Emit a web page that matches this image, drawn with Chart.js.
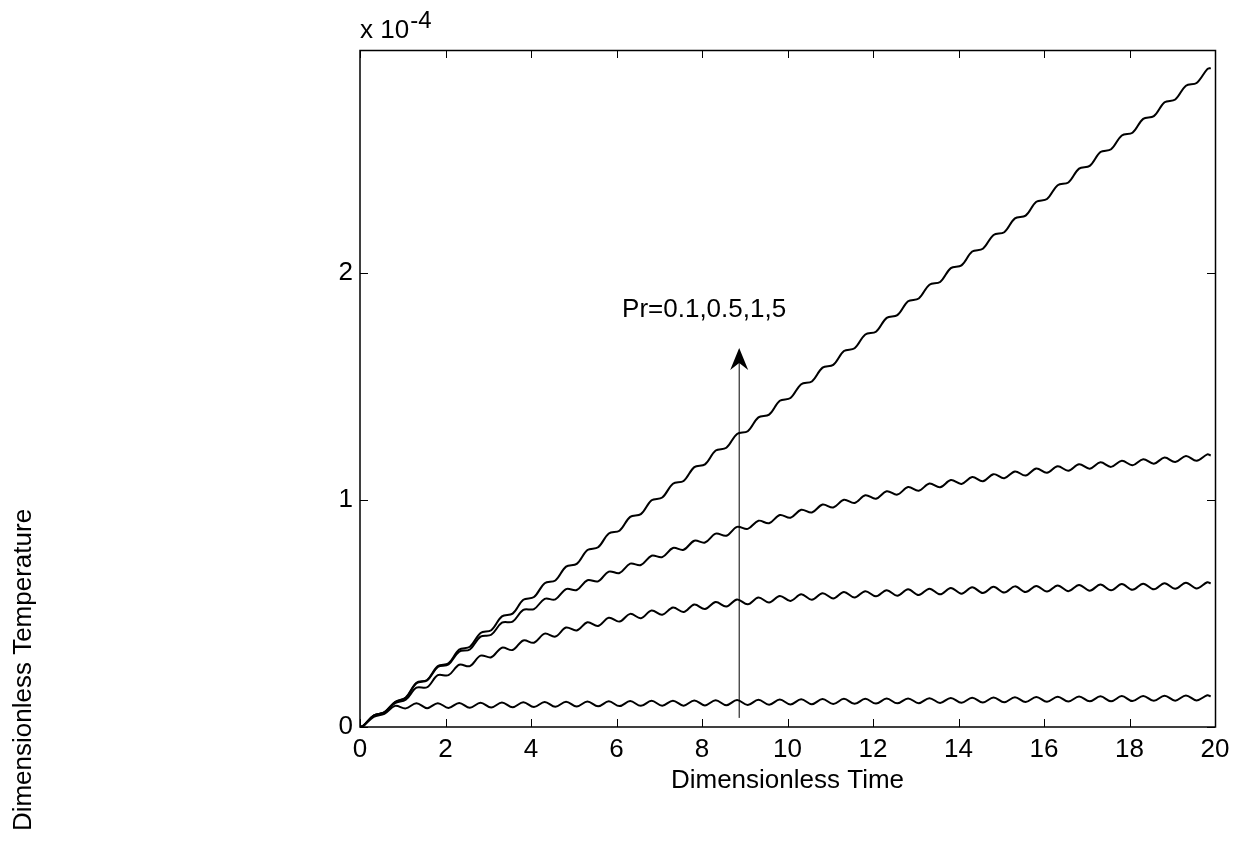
<!DOCTYPE html>
<html>
<head>
<meta charset="utf-8">
<script src="https://cdn.jsdelivr.net/npm/chart.js@4/dist/chart.umd.min.js"></script>
<style>
html,body{margin:0;padding:0;background:#fff;}
canvas{display:block;}
</style>
</head>
<body>
<canvas id="c" width="1238" height="841"></canvas>
<script>
// Dimensionless time samples
const time = [0, 0.07, 0.32, 0.57, 0.82, 1.07,
  1.32, 1.57, 1.82, 2.07, 2.32, 2.57, 2.82, 3.07, 3.32, 3.57, 3.82, 4.07,
  4.32, 4.57, 4.82, 5.07, 5.32, 5.57, 5.82, 6.07, 6.32, 6.57, 6.82, 7.07,
  7.32, 7.57, 7.82, 8.07, 8.32, 8.57, 8.82, 9.07, 9.32, 9.57, 9.82, 10.07,
  10.32, 10.57, 10.82, 11.07, 11.32, 11.57, 11.82, 12.07, 12.32, 12.57, 12.82, 13.07,
  13.32, 13.57, 13.82, 14.07, 14.32, 14.57, 14.82, 15.07, 15.32, 15.57, 15.82, 16.07,
  16.32, 16.57, 16.82, 17.07, 17.32, 17.57, 17.82, 18.07, 18.32, 18.57, 18.82, 19.07,
  19.32, 19.57, 19.82, 19.9];

// Dimensionless temperature (x 10^-4)
const prFive = [0, 0.004, 0.05, 0.065, 0.11, 0.13,
  0.195, 0.207, 0.268, 0.280, 0.341, 0.353, 0.414, 0.426, 0.487, 0.499, 0.560, 0.572,
  0.633, 0.645, 0.706, 0.718, 0.779, 0.791, 0.852, 0.864, 0.925, 0.937, 0.998, 1.010,
  1.071, 1.083, 1.144, 1.156, 1.217, 1.229, 1.290, 1.302, 1.363, 1.375, 1.436, 1.448,
  1.509, 1.521, 1.582, 1.594, 1.655, 1.667, 1.728, 1.740, 1.801, 1.813, 1.874, 1.886,
  1.947, 1.959, 2.020, 2.032, 2.093, 2.105, 2.166, 2.178, 2.239, 2.251, 2.312, 2.324,
  2.385, 2.397, 2.458, 2.470, 2.531, 2.543, 2.604, 2.616, 2.677, 2.689, 2.750, 2.762,
  2.823, 2.835, 2.896, 2.901];

const prOne = [0, 0.004, 0.05, 0.065, 0.11, 0.128,
  0.193, 0.205, 0.264, 0.275, 0.332, 0.341, 0.398, 0.406, 0.459, 0.464, 0.516, 0.519,
  0.564, 0.562, 0.607, 0.603, 0.646, 0.641, 0.684, 0.678, 0.719, 0.713, 0.754, 0.748,
  0.788, 0.780, 0.820, 0.812, 0.851, 0.842, 0.881, 0.872, 0.908, 0.897, 0.933, 0.921,
  0.956, 0.944, 0.979, 0.966, 1.000, 0.986, 1.020, 1.005, 1.038, 1.023, 1.056, 1.040,
  1.072, 1.055, 1.087, 1.070, 1.100, 1.082, 1.113, 1.095, 1.125, 1.107, 1.138, 1.119,
  1.148, 1.128, 1.157, 1.137, 1.165, 1.145, 1.172, 1.152, 1.179, 1.159, 1.186, 1.166,
  1.193, 1.172, 1.200, 1.195];

const prHalf = [0, 0.004, 0.05, 0.064, 0.105, 0.12,
  0.173, 0.175, 0.228, 0.228, 0.274, 0.268, 0.314, 0.307, 0.349, 0.339, 0.381, 0.371,
  0.411, 0.398, 0.438, 0.425, 0.461, 0.445, 0.481, 0.464, 0.498, 0.479, 0.513, 0.494,
  0.526, 0.506, 0.539, 0.519, 0.550, 0.530, 0.561, 0.540, 0.570, 0.548, 0.577, 0.555,
  0.584, 0.560, 0.589, 0.566, 0.594, 0.570, 0.598, 0.575, 0.602, 0.578, 0.606, 0.581,
  0.609, 0.584, 0.612, 0.587, 0.615, 0.590, 0.617, 0.592, 0.619, 0.594, 0.621, 0.596,
  0.623, 0.598, 0.625, 0.600, 0.627, 0.602, 0.629, 0.604, 0.631, 0.606, 0.633, 0.608,
  0.635, 0.610, 0.637, 0.632];

const prTenth = [0, 0.004, 0.045, 0.058, 0.093, 0.082,
  0.105, 0.083, 0.105, 0.084, 0.106, 0.085, 0.107, 0.086, 0.108, 0.087, 0.109, 0.088,
  0.110, 0.089, 0.111, 0.090, 0.112, 0.091, 0.113, 0.092, 0.114, 0.093, 0.115, 0.094,
  0.116, 0.094, 0.117, 0.095, 0.118, 0.096, 0.119, 0.097, 0.120, 0.098, 0.121, 0.099,
  0.122, 0.100, 0.123, 0.101, 0.124, 0.102, 0.124, 0.103, 0.125, 0.104, 0.126, 0.105,
  0.127, 0.106, 0.128, 0.107, 0.129, 0.108, 0.130, 0.109, 0.131, 0.110, 0.132, 0.111,
  0.133, 0.112, 0.134, 0.113, 0.135, 0.113, 0.136, 0.114, 0.137, 0.115, 0.138, 0.116,
  0.139, 0.117, 0.140, 0.135];

// Axes
const xRange = [0, 20];
const xStep = 2;
const yRange = [0, 2.98];
const yStep = 1;
const xTitle = 'Dimensionless Time';
const yTitle = 'Dimensionless Temperature';
const yExpBase = 'x 10';
const yExpPower = '-4';

// Annotation: arrow and label
const arrowX = [8.87, 8.87];
const arrowY = [0.04, 1.62];
const arrowTipY = 1.668;
const noteText = 'Pr=0.1,0.5,1,5';
const noteAt = [6.13, 1.803];

const FONT = '"Liberation Sans", Arial, Helvetica, sans-serif';
const pts = ys => time.map((t, i) => ({x: t, y: ys[i]}));
const curve = {borderColor: '#000', borderWidth: 2, pointRadius: 0, tension: 0.35, fill: false};

const overlay = {
  id: 'overlay',
  afterDatasetsDraw(chart) {
    const {ctx, scales: {x, y}} = chart;
    const tx = x.getPixelForValue(arrowX[1]);
    const ty = y.getPixelForValue(arrowTipY);
    ctx.save();
    ctx.fillStyle = '#000';
    ctx.beginPath();
    ctx.moveTo(tx, ty);
    ctx.lineTo(tx + 9, ty + 22);
    ctx.lineTo(tx, ty + 15);
    ctx.lineTo(tx - 9, ty + 22);
    ctx.closePath();
    ctx.fill();
    ctx.restore();
  },
  afterDraw(chart) {
    const {ctx, chartArea: a, scales: {x, y}} = chart;
    ctx.save();
    ctx.strokeStyle = '#000';
    ctx.lineWidth = 1.5;
    ctx.strokeRect(a.left, a.top + 0.5, a.right - a.left + 0.5, a.bottom - a.top - 0.5);
    // inward ticks on all four sides
    ctx.lineWidth = 1;
    ctx.beginPath();
    const tl = 8;
    x.ticks.forEach(t => {
      const px = Math.round(x.getPixelForValue(t.value)) + 0.5;
      ctx.moveTo(px, a.bottom); ctx.lineTo(px, a.bottom - tl);
      ctx.moveTo(px, a.top); ctx.lineTo(px, a.top + tl);
    });
    y.ticks.forEach(t => {
      const py = Math.round(y.getPixelForValue(t.value)) + 0.5;
      ctx.moveTo(a.left, py); ctx.lineTo(a.left + tl, py);
      ctx.moveTo(a.right, py); ctx.lineTo(a.right - tl, py);
    });
    ctx.stroke();
    // texts
    ctx.fillStyle = '#000';
    ctx.textBaseline = 'alphabetic';
    ctx.textAlign = 'left';
    ctx.font = '26px ' + FONT;
    ctx.fillText(yExpBase, a.left, a.top - 12);
    const w = ctx.measureText(yExpBase).width;
    ctx.font = '24px ' + FONT;
    ctx.fillText(yExpPower, a.left + w + 1, a.top - 22);
    ctx.font = '26px ' + FONT;
    ctx.fillText(noteText, x.getPixelForValue(noteAt[0]), y.getPixelForValue(noteAt[1]));
    ctx.save();
    ctx.translate(31, 670);
    ctx.rotate(-Math.PI / 2);
    ctx.textAlign = 'center';
    ctx.fillText(yTitle, 0, 0);
    ctx.restore();
    ctx.restore();
  }
};

new Chart(document.getElementById('c'), {
  type: 'line',
  data: {
    datasets: [
      Object.assign({label: 'Pr=5', data: pts(prFive)}, curve),
      Object.assign({label: 'Pr=1', data: pts(prOne)}, curve),
      Object.assign({label: 'Pr=0.5', data: pts(prHalf)}, curve),
      Object.assign({label: 'Pr=0.1', data: pts(prTenth)}, curve),
      {label: 'arrow', data: arrowX.map((v, i) => ({x: v, y: arrowY[i]})),
       borderColor: '#000', borderWidth: 1, pointRadius: 0, tension: 0, fill: false}
    ]
  },
  options: {
    responsive: false,
    animation: false,
    devicePixelRatio: 1,
    layout: {padding: {left: 0, top: 50, right: 23, bottom: 0}},
    plugins: {legend: {display: false}, tooltip: {enabled: false}},
    scales: {
      x: {
        type: 'linear', min: xRange[0], max: xRange[1],
        ticks: {stepSize: xStep, font: {family: FONT, size: 26}, color: '#000', padding: 7, maxRotation: 0, autoSkip: false},
        grid: {display: false, drawTicks: false},
        border: {display: false},
        title: {display: true, text: xTitle, color: '#000', font: {family: FONT, size: 26}, padding: {top: 0, bottom: 45}},
        afterFit(s) { s.height = 114; }
      },
      y: {
        type: 'linear', min: yRange[0], max: yRange[1],
        ticks: {stepSize: yStep, includeBounds: false, font: {family: FONT, size: 26}, color: '#000', padding: 7},
        grid: {display: false, drawTicks: false},
        border: {display: false},
        afterFit(s) { s.width = 360; }
      }
    }
  },
  plugins: [overlay]
});
</script>
</body>
</html>
